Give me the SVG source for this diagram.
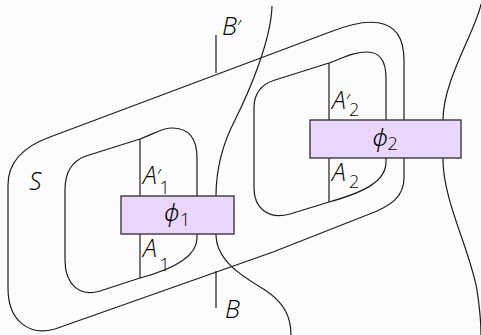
<svg xmlns="http://www.w3.org/2000/svg" width="481" height="335" viewBox="0 0 481 335">
<style>
  .ln { fill: none; stroke: #1c1c1c; stroke-width: 1.2; }
  .box { fill: #ead6fe; stroke: #3a3a3a; stroke-width: 1.4; }
  .t { font-family: "Open Sans", "Noto Sans", sans-serif; font-weight: 300; fill: #000; }
  .it { font-style: italic; font-size: 25px; }
  .ph { font-family: "Noto Sans", "DejaVu Sans", sans-serif; font-style: italic; font-size: 24px; }
  .sub { font-size: 18px; }
  .pr { font-style: normal; font-size: 21px; }
</style>
<rect width="481" height="335" fill="#fcfcfc"/>
<g id="connectors">
  <path class="ln" d="M50,137 L330,32 C360,20 404,10 404,60 L404,178 C404,196 392,206 367,215 L273,252 L55,329 C30,336 8,322 8,288 L8,185 C8,160 25,146 50,137 Z"/>
  <path class="ln" d="M140,139 C156,133 162,128 172,128 C190,128 197,140 197,158 L197,238 C197,258 170,270 140,278 L100,291 C80,297 65,285 65,260 L65,190 C65,172 72,161 86,156 Z"/>
  <path class="ln" d="M329,63 C345,57 355,52 367,52 C380,52 386,62 386,78 L386,162 C386,181 365,192 329,202 L290,214 C268,220 254,208 254,188 L254,108 C254,92 262,84 275,80 Z"/>
  <path class="ln" d="M140,139 L140,278"/>
  <path class="ln" d="M329,63 L329,202"/>
  <path class="ln" d="M272,6 C271,40 250,90 235,120 C222,145 216,170 216,196 L216,234 C216,260 240,275 265,290 C285,303 291,318 291,335"/>
  <path class="ln" d="M481,4 C476,30 443,80 443,120 L443,160 C443,200 470,250 477,290 C480,310 481,325 481,335"/>
  <path class="ln" d="M216,35 L216,73"/>
  <path class="ln" d="M216,271 L216,308"/>
</g>
<g id="phi1">
  <rect class="box" x="121" y="196" width="113" height="38"/>
  <text class="t ph" x="164" y="221">ϕ</text>
  <text class="t sub" x="180" y="225.5">1</text>
</g>
<g id="phi2">
  <rect class="box" x="310" y="120" width="151" height="38"/>
  <text class="t ph" x="372.5" y="146">ϕ</text>
  <text class="t sub" x="387.5" y="149.5">2</text>
</g>
<g id="labels">
  <text class="t it" x="29" y="190">S</text>
  <text class="t it" x="222" y="35">B<tspan class="pr">′</tspan></text>
  <text class="t it" x="225" y="318">B</text>
  <text class="t it" x="143" y="184">A<tspan class="pr">′</tspan></text>
  <text class="t sub" x="159.5" y="194">1</text>
  <text class="t it" x="143" y="257">A</text>
  <text class="t sub" x="159.5" y="271">1</text>
  <text class="t it" x="332" y="109">A<tspan class="pr">′</tspan></text>
  <text class="t sub" x="349" y="116">2</text>
  <text class="t it" x="332" y="180.5">A</text>
  <text class="t sub" x="349" y="188">2</text>
</g>
</svg>
